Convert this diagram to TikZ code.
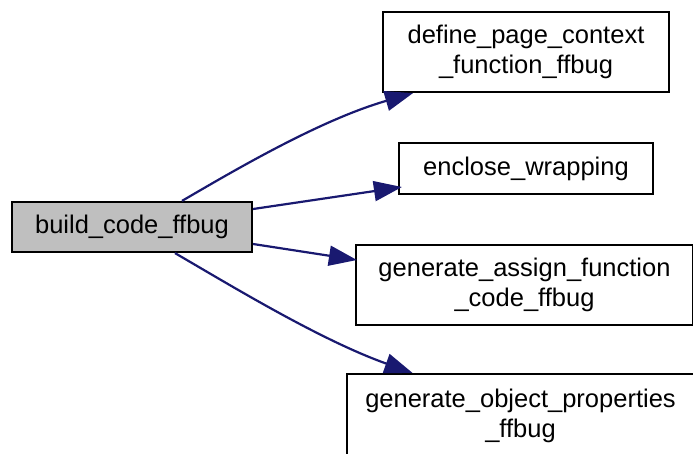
\documentclass[tikz,border=0pt]{standalone}
\usepackage{fontspec}
\setmainfont{Liberation Sans}
\usetikzlibrary{arrows.meta,calc}
\definecolor{edgeblue}{HTML}{191970}
\definecolor{nodegray}{HTML}{BFBFBF}
\tikzset{
  fn/.style={draw=black, line width=2.2pt, fill=white, align=center, inner sep=0pt,
    font=\fontsize{25.5pt}{30pt}\selectfont},
  edge/.style={draw=edgeblue, line width=2.2pt,
    -{Triangle[length=28pt,width=20pt,fill=edgeblue]}}
}
\begin{document}
\begin{tikzpicture}[x=1pt,y=-1pt]
\useasboundingbox (0,0) rectangle (693,453);
\node[fn, fill=nodegray, minimum width=240pt, minimum height=50pt] (build) at (132,227) {build\_code\_ffbug};
\node[fn, minimum width=286pt, minimum height=80pt] (def) at (526,52) {define\_page\_context\\\_function\_ffbug};
\node[fn, minimum width=254pt, minimum height=51pt] (enc) at (526,168.5) {enclose\_wrapping};
\node[fn, minimum width=337pt, minimum height=80pt] (asg) at (524.5,285) {generate\_assign\_function\\\_code\_ffbug};
\node[fn, minimum width=347pt, minimum height=84pt] (obj) at (520.5,416) {generate\_object\_properties\\\_ffbug};
\draw[edge] ($(build.north)+(50,0)$) .. controls (235,170) and (320,120) .. ($(def.south)+(-113,0)$);
\draw[edge] ($(build.east)+(0,-18)$) -- ($(enc.west)+(4,18.5)$);
\draw[edge] ($(build.east)+(0,17)$) -- ($(asg.west)+(2,-25)$);
\draw[edge] ($(build.south)+(43,0)$) .. controls (230,285) and (320,340) .. ($(obj.north)+(-108,0)$);
\end{tikzpicture}
\end{document}
